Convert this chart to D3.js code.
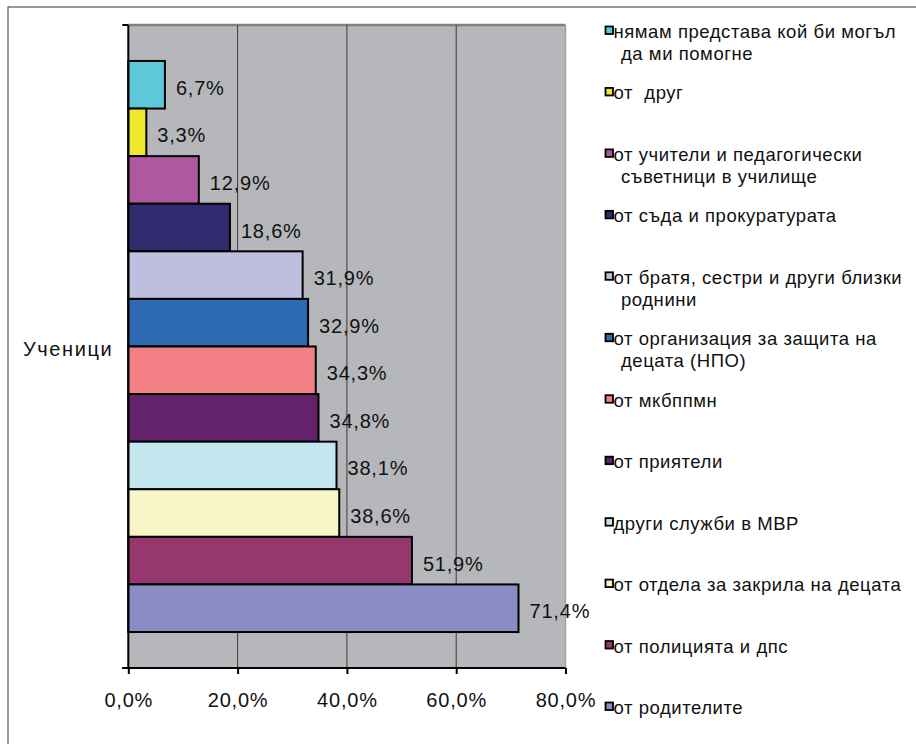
<!DOCTYPE html>
<html>
<head>
<meta charset="utf-8">
<script src="https://cdn.jsdelivr.net/npm/d3@7"></script>
<style>
  html, body { margin: 0; padding: 0; background: #fff; }
  svg { display: block; font-family: "Liberation Sans", Arial, sans-serif; }
</style>
</head>
<body>
<svg id="chart" width="916" height="744"></svg>
<script>
const categories = ["Ученици"];
const seriesNames = [
  "нямам представа кой би могъл\nда ми помогне",
  "от  друг",
  "от учители и педагогически\nсъветници в училище",
  "от съда и прокуратурата",
  "от братя, сестри и други близки\nроднини",
  "от организация за защита на\nдецата (НПО)",
  "от мкбппмн",
  "от приятели",
  "други служби в МВР",
  "от отдела за закрила на децата",
  "от полицията и дпс",
  "от родителите"
];
const values = [6.7, 3.3, 12.9, 18.6, 31.9, 32.9, 34.3, 34.8, 38.1, 38.6, 51.9, 71.4];
const colors = ["#5EC8DB", "#EDE82C", "#AD589F", "#322A6E", "#BFBEDF", "#2D6AB2",
                "#F28084", "#63226A", "#C3E6EF", "#F8F6C7", "#96386D", "#8A8CC4"];
const xTicks = [0, 20, 40, 60, 80];

const svg = d3.select("#chart");
const fmt = v => d3.format(".1f")(v).replace(".", ",") + "%";

// outer frame
svg.append("rect").attr("x", 8).attr("y", 7).attr("width", 960).attr("height", 800)
  .attr("fill", "#fff").attr("stroke", "#555").attr("stroke-width", 1.2);

const plot = { left: 128.3, right: 565.5, top: 25, bottom: 668 };
const x = d3.scaleLinear().domain([0, 80]).range([plot.left, plot.right]);
const y = d3.scaleBand().domain(categories).range([plot.top, plot.bottom])
  .paddingInner(0).paddingOuter(0.063);
const ys = d3.scaleBand().domain(seriesNames).range([0, y.bandwidth()]).padding(0);

// plot background
svg.append("rect").attr("x", plot.left).attr("y", plot.top)
  .attr("width", plot.right - plot.left).attr("height", plot.bottom - plot.top)
  .attr("fill", "#B6B7BB");
svg.append("line").attr("x1", plot.left).attr("x2", plot.right).attr("y1", plot.top).attr("y2", plot.top)
  .attr("stroke", "#808080").attr("stroke-width", 2.5);
svg.append("line").attr("x1", plot.right).attr("x2", plot.right).attr("y1", plot.top).attr("y2", plot.bottom)
  .attr("stroke", "#A0A0A0").attr("stroke-width", 1.5);

// gridlines
svg.append("g").selectAll("line").data(xTicks.slice(1, -1)).join("line")
  .attr("x1", d => x(d)).attr("x2", d => x(d))
  .attr("y1", plot.top).attr("y2", plot.bottom)
  .attr("stroke", "#3a3a3a").attr("stroke-width", 1);

// bars
const g = svg.append("g");
categories.forEach(cat => {
  g.selectAll("rect.bar").data(values).join("rect").attr("class", "bar")
    .attr("x", x(0))
    .attr("y", (d, i) => y(cat) + ys(seriesNames[i]))
    .attr("width", d => x(d) - x(0))
    .attr("height", ys.bandwidth())
    .attr("fill", (d, i) => colors[i])
    .attr("stroke", "#000").attr("stroke-width", 2);
  g.selectAll("text.val").data(values).join("text").attr("class", "val")
    .attr("x", d => x(d) + 11)
    .attr("y", (d, i) => y(cat) + ys(seriesNames[i]) + ys.bandwidth() / 2 + 10)
    .attr("font-size", 20).attr("fill", "#111")
    .attr("letter-spacing", 0.8)
    .text(d => fmt(d));
});

// x axis
const xAxis = d3.axisBottom(x).tickValues(xTicks).tickSize(6).tickSizeOuter(0)
  .tickFormat(d => fmt(d));
const xg = svg.append("g").attr("transform", `translate(0,${plot.bottom})`).call(xAxis);
xg.select(".domain").remove();
xg.append("line").attr("x1", plot.left - 6).attr("x2", plot.right).attr("y1", 0).attr("y2", 0)
  .attr("stroke", "#000").attr("stroke-width", 2);
xg.selectAll(".tick line").attr("stroke", "#000").attr("stroke-width", 2);
xg.selectAll(".tick text").attr("font-size", 20).attr("fill", "#111")
  .attr("letter-spacing", 0.8).attr("y", 33).attr("dy", "0.32em")
  .attr("font-family", "Liberation Sans, Arial, sans-serif");

// y axis
const yAxis = d3.axisLeft(y).tickSize(0).tickSizeOuter(0);
const yg = svg.append("g").attr("transform", `translate(${plot.left},0)`).call(yAxis);
yg.select(".domain").remove();
yg.append("line").attr("x1", 0).attr("x2", 0).attr("y1", plot.top).attr("y2", plot.bottom)
  .attr("stroke", "#000").attr("stroke-width", 2);
[plot.top, plot.bottom].forEach(v => {
  yg.append("line").attr("x1", -6).attr("x2", 0).attr("y1", v).attr("y2", v)
    .attr("stroke", "#000").attr("stroke-width", 2);
});
yg.selectAll(".tick text").attr("font-size", 20).attr("fill", "#111")
  .attr("letter-spacing", 1.6).attr("x", -15).attr("dy", "0.45em")
  .attr("font-family", "Liberation Sans, Arial, sans-serif");

// legend
const ly = d3.scaleLinear().domain([0, seriesNames.length - 1]).range([38, 714]);
const leg = svg.append("g");
seriesNames.forEach((name, i) => {
  const by = ly(i);
  leg.append("rect").attr("x", 605.5).attr("y", by - 11.5).attr("width", 7.5).attr("height", 7.5)
    .attr("fill", colors[i]).attr("stroke", "#000").attr("stroke-width", 1.8);
  const lines = name.split("\n");
  const t = leg.append("text").attr("font-size", 18.5).attr("fill", "#111")
    .attr("letter-spacing", 0.55).style("white-space", "pre");
  lines.forEach((ln, k) => {
    t.append("tspan").attr("x", k === 0 ? 613.5 : 621).attr("y", by + k * 22).text(ln);
  });
});
</script>
</body>
</html>
